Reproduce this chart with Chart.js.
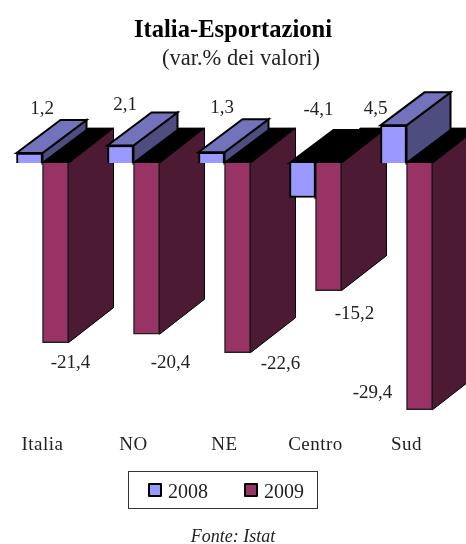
<!DOCTYPE html>
<html>
<head>
<meta charset="utf-8">
<style>
  body { margin: 0; background: #fff; overflow: hidden; width: 466px; height: 544px; position: relative; font-family: "Liberation Serif", serif; color: #222; }
  #chart { position: absolute; left: -3px; top: 0; }
  #title { position: absolute; left: 0; width: 466px; top: 15px; line-height: 28px; text-align: center; font-size: 24.6px; font-weight: bold; color: #000; }
  #subtitle { position: absolute; left: 16px; width: 450px; top: 45px; line-height: 26px; text-align: center; font-size: 22.5px; }
  #legend { position: absolute; left: 128px; top: 471px; width: 188px; height: 36px; border: 1px solid #333; font-size: 20px; }
  #legend span.item { position: absolute; top: 8px; line-height: 22px; }
  #legend i { position: absolute; top: 3px; width: 10px; height: 10px; border: 2px solid #000; border-radius: 1px; }
  #source { position: absolute; left: 0; width: 466px; top: 526px; line-height: 20px; text-align: center; font-size: 18px; font-style: italic; }
</style>
</head>
<body>
<canvas id="chart" width="469" height="544"></canvas>
<div id="title">Italia-Esportazioni</div>
<div id="subtitle">(var.% dei valori)</div>
<div id="legend"></div>
<div id="source">Fonte: Istat</div>
<script src="https://cdn.jsdelivr.net/npm/chart.js@4"></script>
<script>
const categories = ['Italia', 'NO', 'NE', 'Centro', 'Sud'];
const values2008 = [1.2, 2.1, 1.3, -4.1, 4.5];
const values2009 = [-21.4, -20.4, -22.6, -15.2, -29.4];

// where each value label sits, relative to the end of its bar
const labelOffset2008 = [[12.5, -44], [4.5, -40], [10.5, -44], [16, -88], [-18, -16]];
const labelOffset2009 = [[15, 20], [24, 29], [43, 11], [26, 23], [-47, -17]];

const depth = {
  0: { dx: 44, dy: -33, top: '#7373bd', side: '#4d4d80' },
  1: { dx: 45, dy: -35, top: '#000', side: '#4d1a33' },
};

const face = (ctx, pts, fill, lineWidth, stroke) => {
  ctx.beginPath();
  pts.forEach((p, i) => (i ? ctx.lineTo(p[0], p[1]) : ctx.moveTo(p[0], p[1])));
  ctx.closePath();
  ctx.fillStyle = fill;
  ctx.fill();
  ctx.lineWidth = lineWidth;
  ctx.strokeStyle = stroke;
  ctx.stroke();
};

// the sides and tops of one bar, the front comes from Chart.js
const drawDepth = (ctx, bar, d) => {
  const left = bar.x - bar.width / 2;
  const right = bar.x + bar.width / 2;
  const upper = Math.min(bar.y, bar.base);
  const lower = Math.max(bar.y, bar.base);
  const negative = bar.y > bar.base;
  const lw = d === depth[0] ? 2 : 1;
  face(ctx, [[right, upper], [right + d.dx, upper + d.dy], [right + d.dx, lower + d.dy], [right, lower]], d.side, lw, '#000');
  face(ctx, [[left, upper], [left + d.dx, upper + d.dy], [right + d.dx, upper + d.dy], [right, upper]], negative ? '#000' : d.top, lw, '#000');
};

const bars3d = {
  id: 'bars3d',
  beforeDraw(chart) {
    chart.ctx.letterSpacing = '0.5px';
  },
  beforeDatasetsDraw(chart) {
    const { ctx } = chart;
    const first = chart.getDatasetMeta(0).data;
    const second = chart.getDatasetMeta(1).data;
    ctx.save();
    categories.forEach((c, i) => {
      // a negative 2008 bar stands behind 2009, a positive one in front of its top
      if (values2008[i] < 0) drawDepth(ctx, first[i], depth[0]);
      drawDepth(ctx, second[i], depth[1]);
      if (values2008[i] >= 0) drawDepth(ctx, first[i], depth[0]);
    });
    ctx.restore();
  },
  afterDraw(chart) {
    const { ctx } = chart;
    ctx.save();
    ctx.letterSpacing = '0px';
    ctx.font = '19px "Liberation Serif"';
    ctx.fillStyle = '#222';
    ctx.textAlign = 'center';
    ctx.textBaseline = 'middle';
    [[values2008, labelOffset2008], [values2009, labelOffset2009]].forEach(([vals, off], ds) => {
      chart.getDatasetMeta(ds).data.forEach((bar, i) => {
        const text = vals[i].toFixed(1).replace('.', ',');
        ctx.fillText(text, bar.x + off[i][0], bar.y + off[i][1]);
      });
    });
    ctx.restore();
  },
};

const htmlLegend = {
  id: 'htmlLegend',
  afterUpdate(chart) {
    const box = document.getElementById('legend');
    box.innerHTML = '';
    chart.data.datasets.forEach((ds, i) => {
      const item = document.createElement('span');
      item.className = 'item';
      item.style.left = (i ? 135 : 39) + 'px';
      item.textContent = ds.label;
      const swatch = document.createElement('i');
      swatch.style.left = '-20px';
      swatch.style.background = ds.backgroundColor;
      item.appendChild(swatch);
      box.appendChild(item);
    });
  },
};

new Chart(document.getElementById('chart'), {
  type: 'bar',
  data: {
    labels: categories,
    datasets: [
      { label: '2008', data: values2008, backgroundColor: '#9999ff', borderColor: '#000', borderWidth: 2 },
      { label: '2009', data: values2009, backgroundColor: '#993366', borderColor: '#222', borderWidth: 1.5 },
    ],
  },
  options: {
    responsive: false,
    animation: false,
    layout: { padding: { left: 0, right: 14, top: 96, bottom: 86 } },
    datasets: { bar: { barThickness: 26 } },
    scales: {
      x: {
        grid: { display: false },
        border: { display: false },
        ticks: { color: '#222', padding: 2, font: { family: '"Liberation Serif"', size: 19 } },
      },
      y: { display: false, min: -31, max: 8 },
    },
    plugins: {
      legend: { display: false },
      tooltip: { enabled: false },
      title: { display: false },
    },
  },
  plugins: [bars3d, htmlLegend],
});
</script>
</body>
</html>
